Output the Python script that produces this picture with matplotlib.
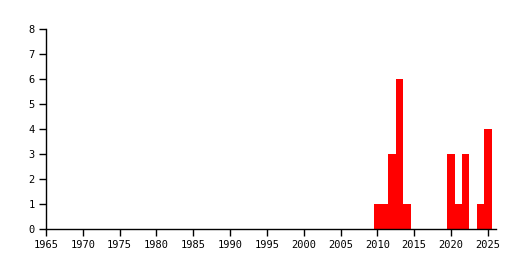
import matplotlib
matplotlib.use("Agg")
import matplotlib.pyplot as plt

years = [2010, 2011, 2012, 2013, 2014, 2020, 2021, 2022, 2024, 2025]
counts = [1, 1, 3, 6, 1, 3, 1, 3, 1, 4]
xticks = list(range(1965, 2026, 5))
yticks = list(range(0, 9))

plt.rcParams['font.family'] = ['DejaVu Sans Mono']
fig = plt.figure(figsize=(5.24, 2.70), dpi=100)
ax = fig.add_axes([46 / 524, 41 / 270, 450 / 524, 200 / 270])

ax.bar(years, counts, width=1.0, color='#ff0000', linewidth=0)

ax.set_xlim(1965, 2026.1)
ax.set_ylim(0, 8)
ax.set_xticks(xticks)
ax.set_yticks(yticks)
ax.tick_params(labelsize=7.5, length=5, width=1, colors='black', pad=3)
for s in ['top', 'right']:
    ax.spines[s].set_visible(False)
for s in ['left', 'bottom']:
    ax.spines[s].set_linewidth(1)

fig.savefig('out.png', dpi=100)
